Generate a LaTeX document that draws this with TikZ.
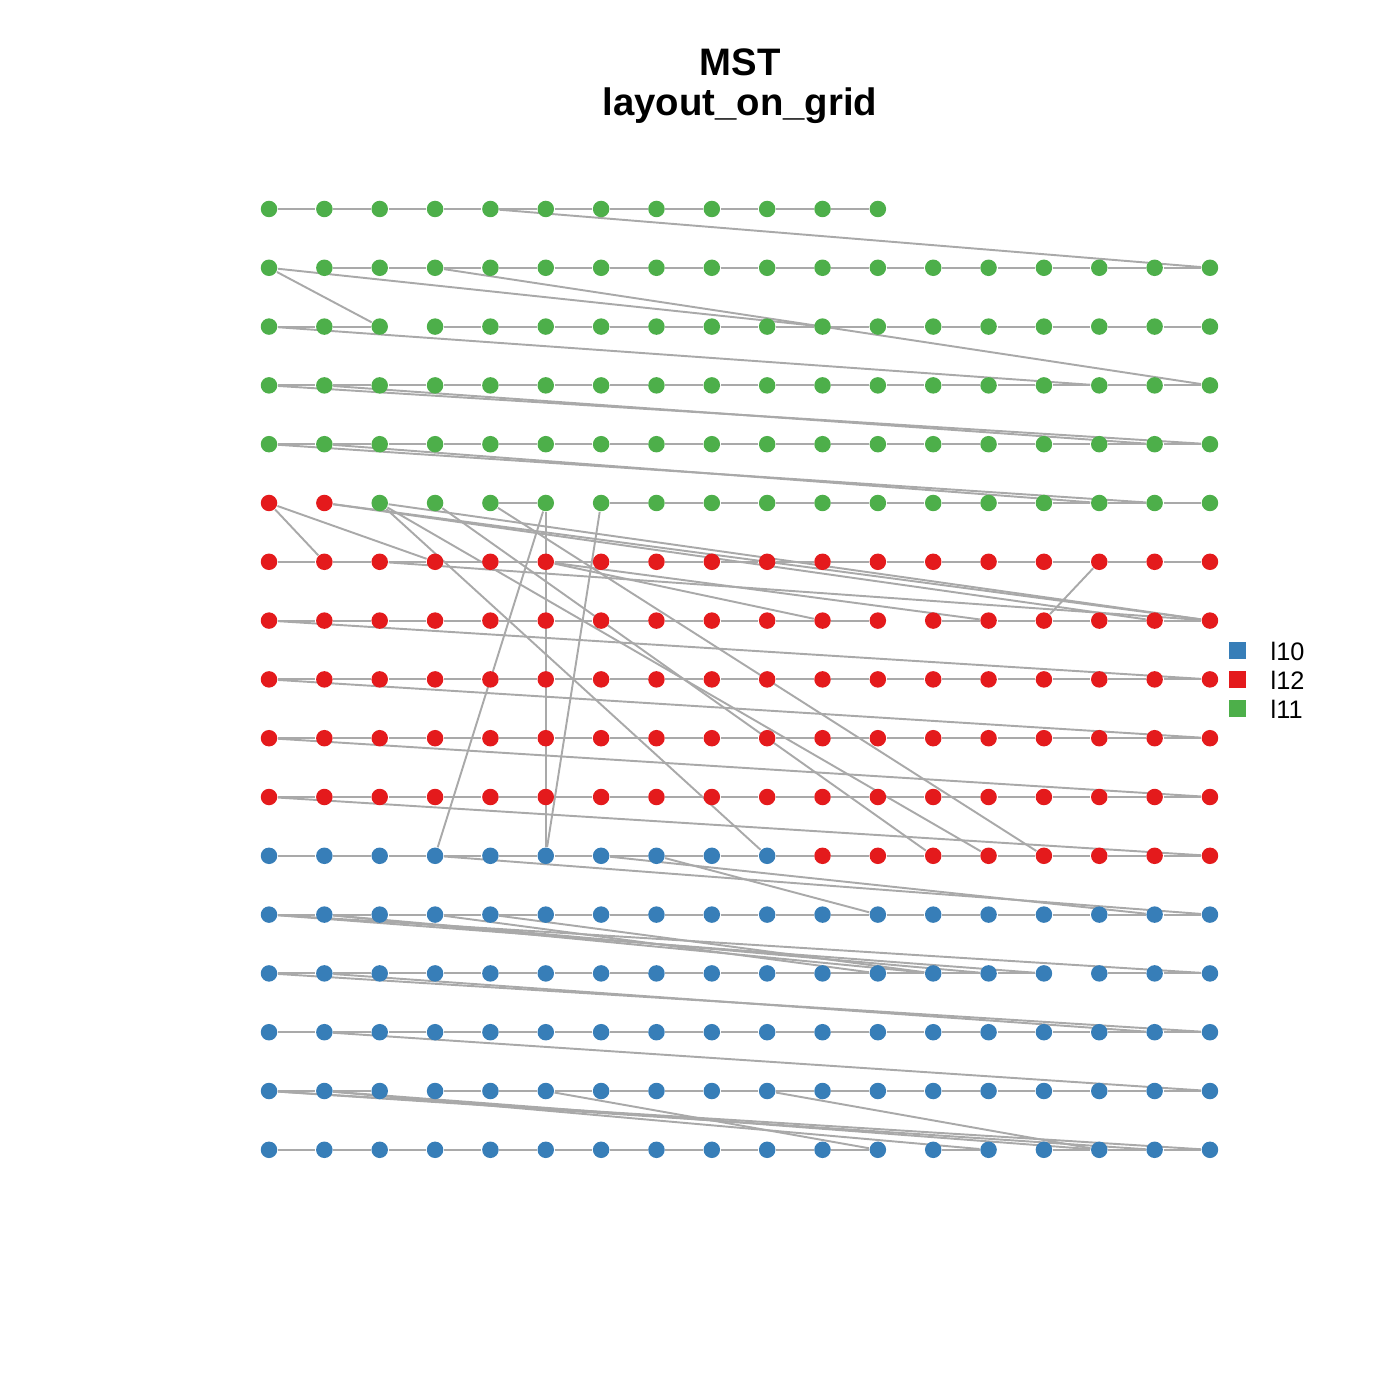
\documentclass[tikz,border=0pt]{standalone}
\usepackage{fontspec}
\setmainfont{Liberation Sans}
\usetikzlibrary{backgrounds}
\definecolor{grp10}{HTML}{377EB8}
\definecolor{grp12}{HTML}{E41A1C}
\definecolor{grp11}{HTML}{4DAF4A}
\definecolor{edgegray}{HTML}{A9A9A9}

\begin{document}
\begin{tikzpicture}[x=0.1mm, y=-0.1mm,
  vert/.style={circle, inner sep=0pt, minimum size=1.65mm},
  mst/.style={draw=edgegray, line width=0.55pt},
  keybox/.style={inner sep=0pt, minimum size=1.7mm},
  keytext/.style={anchor=west, inner sep=0pt, font=\fontsize{7.2}{9}\selectfont},
  titletext/.style={anchor=base, font=\bfseries\fontsize{10.9}{13}\selectfont}
]
\useasboundingbox (0,0) rectangle (1400,1400);

% title
\node[titletext] (title1) at (740,76) {MST};
\node[titletext] (title2) at (740,116) {layout\_on\_grid};

% vertices, row by row
\foreach \r/\a/\b/\col in {0/0/11/grp11, 1/0/17/grp11, 2/0/17/grp11, 3/0/17/grp11,
    4/0/17/grp11, 5/0/1/grp12, 5/2/17/grp11, 6/0/17/grp12, 7/0/17/grp12,
    8/0/17/grp12, 9/0/17/grp12, 10/0/17/grp12, 11/0/9/grp10, 11/10/17/grp12,
    12/0/17/grp10, 13/0/17/grp10, 14/0/17/grp10, 15/0/17/grp10, 16/0/17/grp10}
  \foreach \c in {\a,...,\b}
    \node[vert, fill=\col] (n\r-\c) at (269+\c*55.35, 209+\r*58.8) {};

\begin{scope}[on background layer]
% runs along a row
\foreach \r/\a/\b in {0/0/11, 1/1/17, 2/0/2, 2/3/17, 3/0/17, 4/0/17, 5/4/5, 5/6/17,
    6/0/17, 7/0/11, 7/12/17, 8/0/17, 9/0/17, 10/0/17, 11/0/17, 12/0/17,
    13/0/14, 13/15/17, 14/0/17, 15/0/2, 15/3/17, 16/0/11, 16/12/13, 16/14/17}{
  \pgfmathtruncatemacro\e{\b-1}
  \foreach \c in {\a,...,\e}{
    \pgfmathtruncatemacro\d{\c+1}
    \draw[mst] (n\r-\c) -- (n\r-\d);
  }
}
% links between rows
\foreach \ra/\ca/\rb/\cb in {0/4/1/17, 1/0/2/2, 1/0/2/10, 1/3/3/17, 2/0/3/15,
    3/0/4/17, 3/1/4/16, 4/0/5/16, 4/1/5/15,
    5/0/6/1, 5/0/6/3, 5/1/7/17, 5/1/7/16, 5/2/7/17, 6/2/7/17, 6/5/7/13, 6/5/7/10,
    5/2/11/9, 5/2/11/13, 5/3/11/12, 5/4/11/14, 5/5/11/3, 5/5/11/5, 5/6/11/5,
    6/15/7/14, 7/0/8/17, 8/0/9/17, 9/0/10/17, 10/0/11/17,
    11/3/12/17, 11/6/12/16, 11/7/12/11,
    12/0/13/17, 12/0/13/14, 12/1/13/13, 12/1/13/12, 12/3/13/11, 12/4/13/12,
    13/0/14/17, 13/1/14/16, 14/1/15/17,
    15/0/16/16, 15/0/16/17, 15/1/16/15, 15/1/16/13, 15/5/16/11, 15/9/16/15}
  \draw[mst] (n\ra-\ca) -- (n\rb-\cb);
\end{scope}

% legend
\node[keybox, fill=grp10] (key10) at (1237,651) {};
\node[keytext] (lab10) at (1270,651) {l10};
\node[keybox, fill=grp12] (key12) at (1237,680) {};
\node[keytext] (lab12) at (1270,680) {l12};
\node[keybox, fill=grp11] (key11) at (1237,709) {};
\node[keytext] (lab11) at (1270,709) {l11};
\end{tikzpicture}
\end{document}
